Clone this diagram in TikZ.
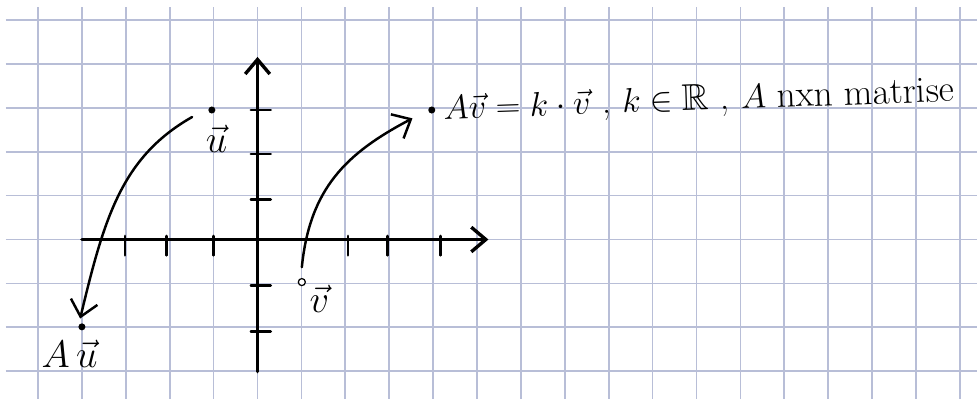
\documentclass[tikz,border=0pt]{standalone}
\usepackage{amssymb}
\usetikzlibrary{arrows.meta,positioning}
\definecolor{gridblue}{RGB}{184,190,215}
\tikzset{
    gridline/.style={draw=gridblue, line width=1.1pt},
    axisline/.style={line width=2.2pt, line cap=round, -{Straight Barb[length=3.3mm,width=5.6mm]}},
    tickline/.style={line width=1.8pt, line cap=round},
    mapline/.style={line width=1.6pt, line cap=round, -{Straight Barb[length=3.5mm,width=6.2mm]}},
    filldot/.style={circle, fill=black, inner sep=0pt, minimum size=1.6mm},
    opendot/.style={circle, draw=black, fill=white, line width=0.8pt, inner sep=0pt, minimum size=1.6mm},
    veclabel/.style={inner sep=1pt, font=\fontsize{26}{30}\selectfont},
    eqlabel/.style={inner sep=0pt, transform shape, scale=1.07, font=\fontsize{22.5}{27}\selectfont},
}

\begin{document}
\begin{tikzpicture}
    \useasboundingbox (-5.866,-3.633) rectangle (16.39,5.456);
    \fill[white] (-5.866,-3.633) rectangle (16.39,5.456);
    \draw[gridline] (-5.73,-3.633) grid (16.39,5.30);

    % axes
    \coordinate (xstart) at (-4,0);
    \coordinate (xend) at (5.26,0);
    \coordinate (ystart) at (0,-3.01);
    \coordinate (yend) at (0,4.16);
    \draw[axisline] (xstart) -- (xend);
    \draw[axisline] (ystart) -- (yend);
    \foreach \tx in {-3.02,-2.08,-1.01,2.06,2.97,4.16}
        \draw[tickline] (\tx,0.08) -- (\tx,-0.36);
    \foreach \ty in {2.95,1.95,0.92,-1.04,-2.1}
        \draw[tickline] (-0.15,\ty) -- (0.3,\ty);

    % points and labels
    \node[filldot] (ptu) at (-1.04,2.95) {};
    \node[opendot] (ptv) at (1.01,-0.97) {};
    \node[filldot] (ptAu) at (-4.0,-1.99) {};
    \node[filldot] (ptAv) at (3.97,2.95) {};

    \node[veclabel, below=6pt of ptu, xshift=3pt] (lblu) {$\vec{u}$};
    \node[veclabel, below right=-1pt and 2pt of ptv] (lblv) {$\vec{v}$};
    \node[veclabel, below=5pt of ptAu, xshift=-8pt] (lblAu) {$A\,\vec{u}$};
    \node[eqlabel, right=5pt of ptAv, rotate=2] (eqtext)
        {$A\vec{v}=k\cdot\vec{v}$ , $k\in\mathbb{R}$ , $A$ nxn matrise};

    % the two mappings
    \coordinate (ufrom) at (-1.49,2.79);
    \coordinate (uto) at (-4.04,-1.80);
    \draw[mapline] (ufrom) .. controls (-3.09,1.88) and (-3.49,0.5) .. (uto);
    \coordinate (vfrom) at (1.01,-0.63);
    \coordinate (vto) at (3.53,2.76);
    \draw[mapline] (vfrom) .. controls (1.19,1.17) and (2.03,1.97) .. (vto);
\end{tikzpicture}
\end{document}
